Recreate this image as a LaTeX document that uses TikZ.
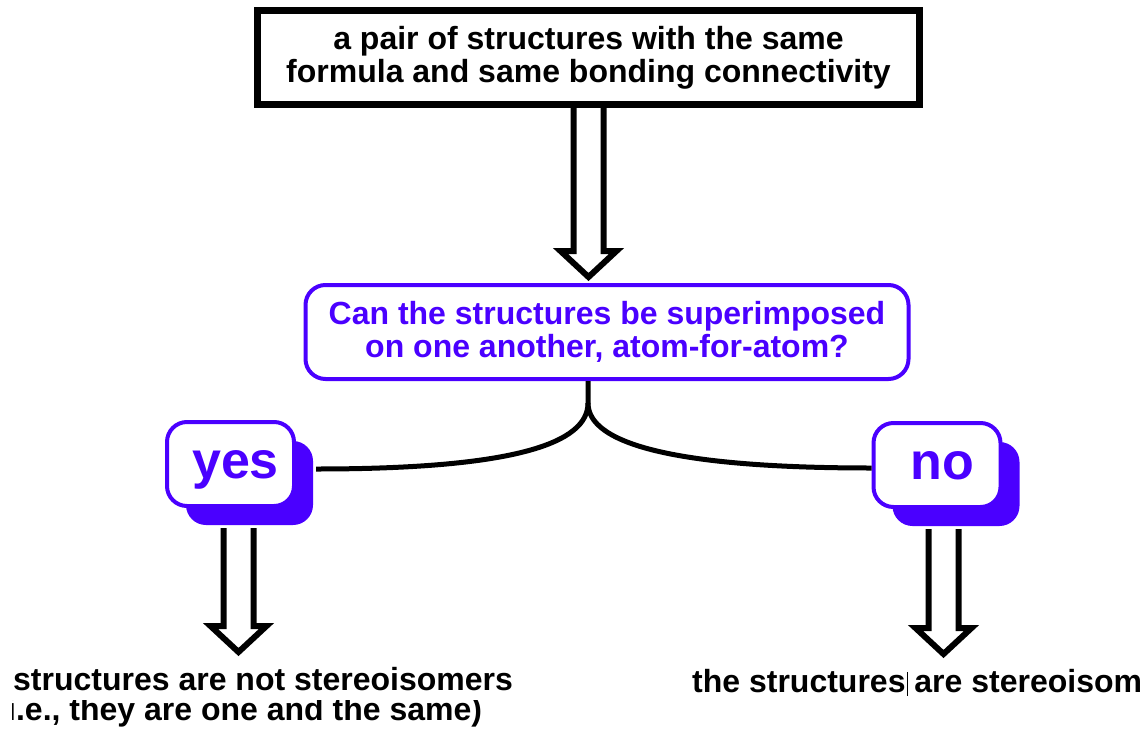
\documentclass[tikz,border=0pt]{standalone}
\usepackage{fontspec}
\setmainfont{Liberation Sans}
\usetikzlibrary{calc,shadows}
\definecolor{askblue}{HTML}{4A00FF}

\begin{document}
\begin{tikzpicture}[
  x=1pt,
  y=-1pt,
  font=\bfseries\fontsize{32}{33}\selectfont,
  given/.style={draw, line width=7pt, minimum width=662pt, minimum height=94pt, align=center},
  query/.style={draw=askblue, text=askblue, line width=4pt, rounded corners=20pt, minimum width=603pt, minimum height=94pt, align=center},
  answer/.style={draw=askblue, fill=white, text=askblue, line width=4pt, rounded corners=20pt, minimum width=127pt, minimum height=84pt, text depth=0pt, font=\bfseries\fontsize{52}{52}\selectfont, drop shadow={shadow xshift=19pt, shadow yshift=-19pt, fill=askblue, opacity=1}},
  result/.style={anchor=base west, inner sep=0pt},
  wire/.style={line width=5pt},
  hollow/.style={line width=6pt, to path={
    ($(\tikztostart)+(-15,0)$) -- ($(\tikztotarget)+(-15,-26)$) -- ($(\tikztotarget)+(-28,-26)$) -- (\tikztotarget)
    -- ($(\tikztotarget)+(28,-26)$) -- ($(\tikztotarget)+(15,-26)$) -- ($(\tikztostart)+(15,0)$)}}
]
\useasboundingbox (0,0) rectangle (1147,733);

\node[given] (pair) at (588.5,57.5) {a pair of structures with the same\\formula and same bonding connectivity};
\node[query] (ask) at (607,332) {Can the structures be superimposed\\on one another, atom-for-atom?};
\node[answer] (yes) at (230.5,464) {\hspace*{10pt}yes};
\node[answer] (no) at (937,465) {\hspace*{10pt}no};

\node[result] (notiso) at (13,690) {structures are not stereoisomers};
\begin{scope}
  \clip (12,700) rectangle (560,733);
  \node[result] (same) at (7,720) {i.e., they are one and the same)};
\end{scope}
\node[result] (iso) at (692,692) {the structures are stereoisom};
\draw[line width=1.2pt] (907.5,672) -- (907.5,696);

\coordinate (asktip) at ($(pair.south |- ask.north)+(0,-6)$);
\coordinate (split) at ($(ask.south)+(-19,22)$);
\coordinate (yesend) at ($(yes.east)+(20,5)$);
\coordinate (noend) at ($(no.west)+(0,3)$);
\coordinate (yesfoot) at ($(yes.south)+(8,20)$);
\coordinate (yestip) at ($(yes.south)+(8,144)$);
\coordinate (nofoot) at ($(no.south)+(6.5,20)$);
\coordinate (notip) at ($(no.south)+(6.5,145)$);

\draw[hollow] (pair.south) to (asktip);
\draw[wire] (ask.south -| split) -- (split) .. controls +(0,40) and +(200,0) .. (yesend);
\draw[wire] (split) .. controls +(0,40) and +(-200,0) .. (noend);
\draw[hollow] (yesfoot) to (yestip);
\draw[hollow] (nofoot) to (notip);
\end{tikzpicture}
\end{document}
